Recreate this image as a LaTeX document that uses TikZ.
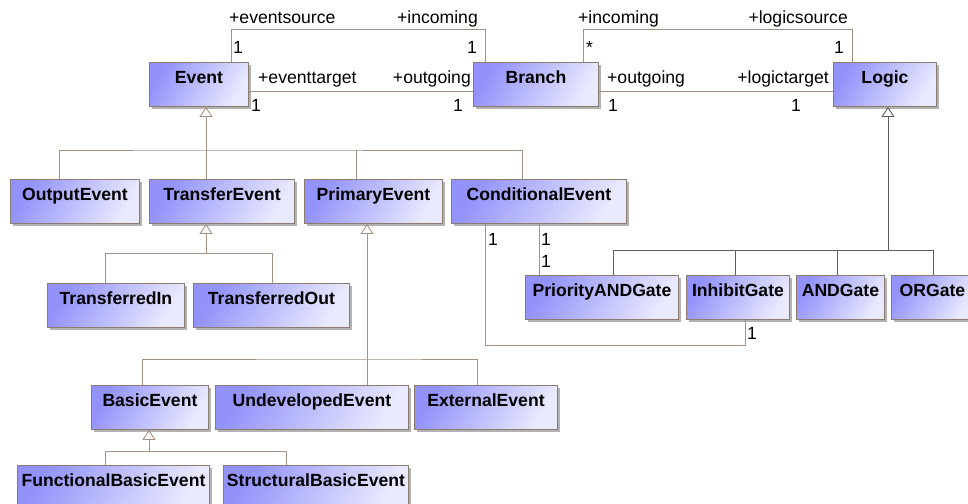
\documentclass[tikz,border=0pt]{standalone}
\usepackage{fontspec}
\setmainfont{Liberation Sans}
\usetikzlibrary{arrows.meta,shadows}

\definecolor{boxdark}{RGB}{146,146,250}
\definecolor{boxlight}{RGB}{234,234,255}
\definecolor{boxline}{RGB}{140,124,112}
\definecolor{wire}{RGB}{165,145,130}
\definecolor{wiredark}{RGB}{95,95,95}
\definecolor{shadowgray}{RGB}{178,178,178}

\tikzset{
  cls/.style={draw=boxline, line width=0.9pt,
    left color=boxdark, right color=boxlight, shading angle=60,
    anchor=north west, inner sep=0pt, minimum height=44pt,
    text height=19pt, text depth=21pt,
    font=\fontsize{17.6}{20}\selectfont\bfseries,
    drop shadow={shadow xshift=2.5pt, shadow yshift=-2.5pt, fill=shadowgray, opacity=1}},
  lbl/.style={inner sep=0pt, font=\fontsize{17.6}{20}\selectfont},
  assoc/.style={draw=wire, line width=0.9pt},
  tree/.style={draw=wire, line width=0.9pt},
  treedark/.style={draw=wiredark, line width=0.9pt},
  gen/.style={tree, -{Triangle[open, length=10pt, width=13pt]}},
  gendark/.style={treedark, -{Triangle[open, length=10pt, width=13pt]}}
}

\begin{document}
\begin{tikzpicture}[x=1pt, y=-1pt]
\useasboundingbox (0,0) rectangle (968,503);
\clip (0,0) rectangle (968,503);

% classes
\node[cls, minimum width=99pt]  (Event)  at (149,62) {Event};
\node[cls, minimum width=125pt] (Branch) at (473,62) {Branch};
\node[cls, minimum width=103pt] (Logic)  at (833,62) {Logic};

\node[cls, minimum width=129pt] (OutputEvent)      at (10,179)  {OutputEvent};
\node[cls, minimum width=145pt] (TransferEvent)    at (149,179) {TransferEvent};
\node[cls, minimum width=138pt] (PrimaryEvent)     at (304,179) {PrimaryEvent};
\node[cls, minimum width=175pt] (ConditionalEvent) at (451,179) {ConditionalEvent};

\node[cls, minimum width=137pt] (TransferredIn)  at (47,283)  {TransferredIn};
\node[cls, minimum width=156pt] (TransferredOut) at (193,283) {TransferredOut};

\node[cls, minimum width=153pt] (PriorityANDGate) at (525,275) {PriorityANDGate};
\node[cls, minimum width=103pt] (InhibitGate)     at (686,275) {InhibitGate};
\node[cls, minimum width=88pt]  (ANDGate)         at (796,275) {ANDGate};
\node[cls, minimum width=82pt]  (ORGate)          at (891,275) {ORGate};

\node[cls, minimum width=117pt] (BasicEvent)       at (91,385)  {BasicEvent};
\node[cls, minimum width=193pt] (UndevelopedEvent) at (215,385) {UndevelopedEvent};
\node[cls, minimum width=143pt] (ExternalEvent)    at (414,385) {ExternalEvent};

\node[cls, minimum width=192pt] (FunctionalBasicEvent) at (17,465)  {FunctionalBasicEvent};
\node[cls, minimum width=185pt] (StructuralBasicEvent) at (223,465) {StructuralBasicEvent};

% junction points of the inheritance trees
\coordinate (evbus)  at (206,150);
\coordinate (trbus)  at (206,253);
\coordinate (prbus)  at (367,359);
\coordinate (babus)  at (149,451);
\coordinate (lgbus)  at (888,250);

% associations Event--Branch--Logic
\draw[assoc] (231,0 |- Event.north) |- (485,29) -- (485,0 |- Branch.north);
\draw[assoc] (Event.east |- 0,91) -- (Branch.west |- 0,91);
\draw[assoc] (583,0 |- Branch.north) |- (852,29) -- (852,0 |- Logic.north);
\draw[assoc] (Branch.east |- 0,91) -- (Logic.west |- 0,91);

% associations ConditionalEvent--gates
\draw[assoc] (485,0 |- ConditionalEvent.south) |- (745,345) -- (745,0 |- InhibitGate.south);
\draw[assoc] (539,0 |- ConditionalEvent.south) -- (539,0 |- PriorityANDGate.north);

% Event hierarchy
\draw[gen] (206,0 |- TransferEvent.north) -- (206,0 |- Event.south);
\draw[tree] (59,0 |- OutputEvent.north) |- (evbus) -- (522,150) -- (522,0 |- ConditionalEvent.north);
\draw[tree] (356,0 |- PrimaryEvent.north) -- (356,150);

% TransferEvent hierarchy
\draw[gen] (trbus) -- (206,0 |- TransferEvent.south);
\draw[tree] (105,0 |- TransferredIn.north) |- (272,253) -- (272,0 |- TransferredOut.north);

% PrimaryEvent hierarchy
\draw[gen] (367,0 |- UndevelopedEvent.north) -- (367,0 |- PrimaryEvent.south);
\draw[tree] (142,0 |- BasicEvent.north) |- (prbus) -- (477,359) -- (477,0 |- ExternalEvent.north);

% BasicEvent hierarchy
\draw[gen] (babus) -- (149,0 |- BasicEvent.south);
\draw[tree] (105,0 |- FunctionalBasicEvent.north) |- (286,451) -- (286,0 |- StructuralBasicEvent.north);

% Logic hierarchy
\draw[gendark] (lgbus) -- (888,0 |- Logic.south);
\draw[treedark] (613,0 |- PriorityANDGate.north) |- (933,250) -- (933,0 |- ORGate.north);
\draw[treedark] (735,0 |- InhibitGate.north) -- (735,250);
\draw[treedark] (837,0 |- ANDGate.north) -- (837,250);

% role names and multiplicities
\node[lbl, anchor=base west] (rEvSrc)  at (229,24)  {+eventsource};
\node[lbl, anchor=base east] (rBrIn)   at (478,24)  {+incoming};
\node[lbl, anchor=base west] (mEvSrc)  at (233,54)  {1};
\node[lbl, anchor=base east] (mBrIn)   at (477,54)  {1};
\node[lbl, anchor=base west] (rEvTgt)  at (258,83)  {+eventtarget};
\node[lbl, anchor=base east] (rBrOut)  at (471,83)  {+outgoing};
\node[lbl, anchor=base west] (mEvTgt)  at (251,111) {1};
\node[lbl, anchor=base east] (mBrOut)  at (463,111) {1};

\node[lbl, anchor=base west] (rBrIn2)  at (578,24)  {+incoming};
\node[lbl, anchor=base east] (rLgSrc)  at (848,24)  {+logicsource};
\node[lbl, anchor=base west] (mBrIn2)  at (586,54)  {*};
\node[lbl, anchor=base east] (mLgSrc)  at (844,54)  {1};
\node[lbl, anchor=base west] (rBrOut2) at (607,83)  {+outgoing};
\node[lbl, anchor=base east] (rLgTgt)  at (829,83)  {+logictarget};
\node[lbl, anchor=base west] (mBrOut2) at (608,111) {1};
\node[lbl, anchor=base east] (mLgTgt)  at (801,111) {1};

\node[lbl, anchor=base west] (mCeA)  at (488,245) {1};
\node[lbl, anchor=base west] (mCeB)  at (541,245) {1};
\node[lbl, anchor=base west] (mPag)  at (541,267) {1};
\node[lbl, anchor=base west] (mInh)  at (747,339) {1};
\end{tikzpicture}
\end{document}
